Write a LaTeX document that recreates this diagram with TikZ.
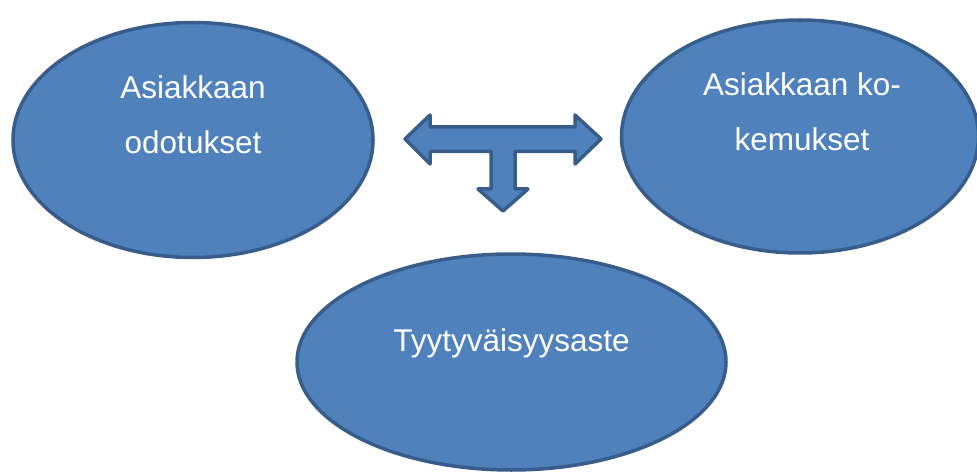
\documentclass[tikz,border=0pt]{standalone}
\usepackage{fontspec}
\setmainfont{Liberation Sans}
\usepackage{xcolor}
\usepackage{tikz}
\usetikzlibrary{shapes.geometric, positioning, calc}
\definecolor{blobfill}{HTML}{4F81BD}
\definecolor{blobline}{HTML}{385D8A}

\begin{document}
\begin{tikzpicture}[
  x=1pt, y=1pt,
  blob/.style={ellipse, draw=blobline, fill=blobfill, line width=3.5pt,
               inner sep=0pt},
  txt/.style={text=white, align=center, font=\fontsize{31.5}{55}\selectfont},
  blockarr/.style={draw=blobline, fill=blobfill, line width=3.5pt, line join=round}
]
  \useasboundingbox (0,0) rectangle (977,472);

  \node[blob, minimum width=360, minimum height=235] (odot) at (193,332)   {};
  \node[blob, minimum width=357, minimum height=233] (kok)  at (800,335.5) {};
  \node[blob, minimum width=429, minimum height=216] (tyyt) at (511.5,110) {};

  \node[txt] (odot-t) at ([yshift=25]odot.center)           {Asiakkaan\\odotukset};
  \node[txt] (kok-t)  at ([xshift=2,yshift=25]kok.center)   {Asiakkaan ko-\\kemukset};
  \node[txt, anchor=base] (tyyt-t) at ([yshift=11]tyyt.center) {Tyytyväisyysaste};

  \coordinate (hub) at (503,333);
  \draw[blockarr, shift={(hub)}]
    (-98,0) -- (-73,24) -- (-73,12) -- (72,12) -- (72,24) -- (98,0)
    -- (72,-25) -- (72,-12.5) -- (12,-12.5) -- (12,-50) -- (25,-50)
    -- (0,-72) -- (-25,-50) -- (-12,-50) -- (-12,-12.5) -- (-73,-12.5)
    -- (-73,-25) -- cycle;
\end{tikzpicture}
\end{document}
